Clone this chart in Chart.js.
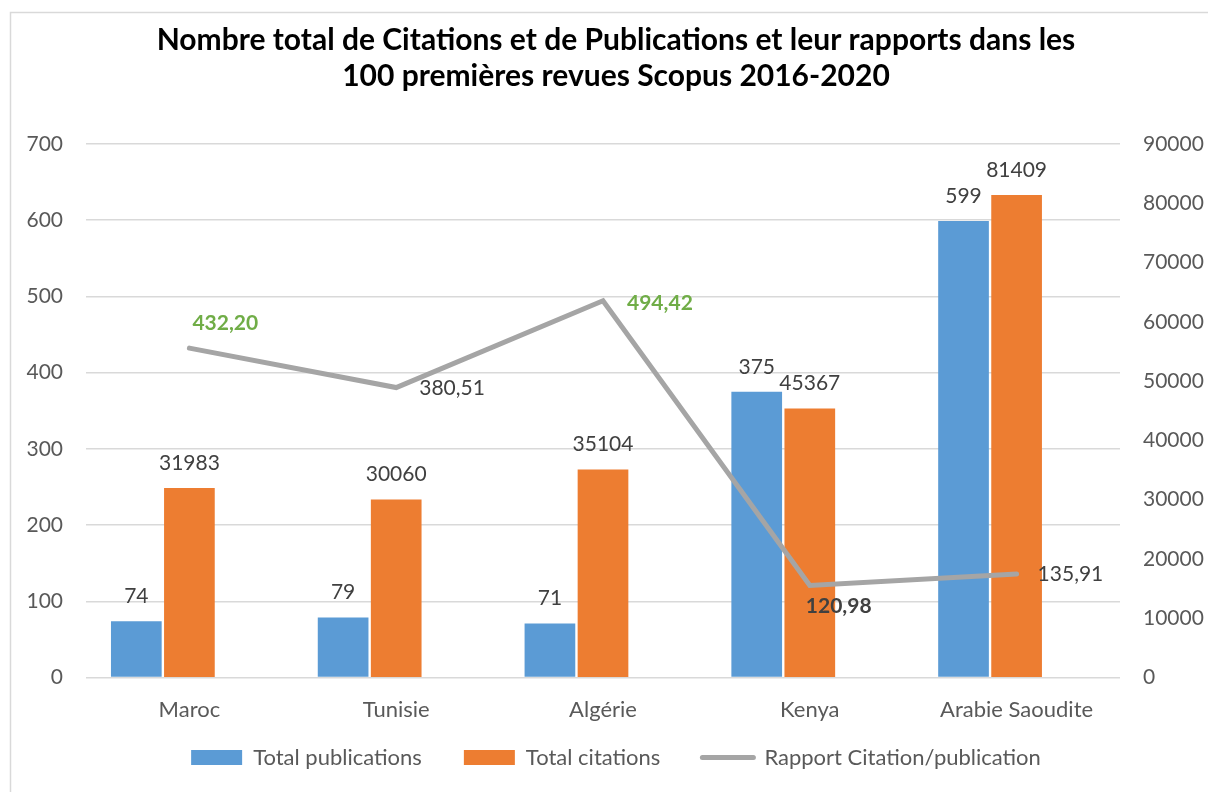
<!DOCTYPE html>
<html lang="fr">
<head>
  <meta charset="UTF-8" />
  <title>Citations et Publications - Scopus 2016-2020</title>
  <script src="https://cdn.jsdelivr.net/npm/chart.js"></script>
  <style>
    html, body { margin: 0; padding: 0; background: #fff; }
    #zone { width: 1208px; height: 792px; }
  </style>
</head>
<body>
  <div id="zone"><canvas id="graphique" width="1208" height="792"></canvas></div>

  <script>
    // Données
    const pays = ['Maroc', 'Tunisie', 'Algérie', 'Kenya', 'Arabie Saoudite'];
    const totalPublications = [74, 79, 71, 375, 599];
    const totalCitations = [31983, 30060, 35104, 45367, 81409];
    const rapport = [432.20, 380.51, 494.42, 120.98, 135.91];
    const titre = [
      'Nombre total de Citations et de Publications et leur rapports dans les',
      '100 premières revues Scopus 2016-2020'
    ];
    const axeGauche = { max: 700, pas: 100 };
    const axeDroit = { max: 90000, pas: 10000 };

    const police = 'Lato, "Open Sans", sans-serif';

    // position et style des étiquettes du rapport (comme dans Excel)
    const styleRapport = [
      { dx: 3, dy: -25, couleur: '#70AD47', gras: true },
      { dx: 23, dy: 1, couleur: '#404040', gras: false },
      { dx: 24, dy: 3, couleur: '#70AD47', gras: true },
      { dx: -4, dy: 21, couleur: '#404040', gras: true },
      { dx: 21, dy: 0, couleur: '#404040', gras: false }
    ];

    const cadre = {
      id: 'cadre',
      beforeDraw(chart) {
        const ctx = chart.ctx;
        ctx.save();
        ctx.fillStyle = '#fff';
        ctx.fillRect(0, 0, chart.width, chart.height);
        ctx.strokeStyle = '#D9D9D9';
        ctx.lineWidth = 1.5;
        ctx.strokeRect(10.5, 12.5, 1300, 900);
        ctx.restore();
      },
      afterLayout(chart) {
        // remonte la légende sous les noms de pays
        const lg = chart.legend;
        const h = lg.bottom - lg.top;
        lg.top = chart.chartArea.bottom + 27;
        lg.bottom = lg.top + h;
      }
    };

    const etiquettes = {
      id: 'etiquettes',
      afterDatasetsDraw(chart) {
        const ctx = chart.ctx;
        ctx.save();
        ctx.textBaseline = 'middle';
        ctx.textAlign = 'center';
        ctx.fillStyle = '#404040';
        ctx.font = '21px ' + police;
        [0, 1].forEach(di => {
          const meta = chart.getDatasetMeta(di);
          const valeurs = chart.data.datasets[di].data;
          meta.data.forEach((barre, i) => {
            ctx.fillText(String(valeurs[i]), barre.x, barre.y - 25);
          });
        });
        const metaLigne = chart.getDatasetMeta(3);
        ctx.textAlign = 'left';
        metaLigne.data.forEach((pt, i) => {
          const st = styleRapport[i];
          ctx.font = (st.gras ? 'bold ' : '') + '21px ' + police;
          ctx.fillStyle = st.couleur;
          ctx.fillText(rapport[i].toFixed(2).replace('.', ','), pt.x + st.dx, pt.y + st.dy);
        });
        ctx.restore();
      }
    };

    const ctx = document.getElementById('graphique').getContext('2d');

    new Chart(ctx, {
      type: 'bar',
      data: {
        labels: pays,
        datasets: [
          {
            label: 'Total publications',
            data: totalPublications,
            backgroundColor: '#5B9BD5',
            yAxisID: 'y',
            order: 2
          },
          {
            label: 'Total citations',
            data: totalCitations,
            backgroundColor: '#ED7D31',
            yAxisID: 'y1',
            order: 2
          },
          {
            // place vide du groupe de barres (la série ligne dans Excel)
            label: '',
            data: pays.map(() => null),
            backgroundColor: 'rgba(0,0,0,0)',
            yAxisID: 'y',
            order: 2
          },
          {
            type: 'line',
            label: 'Rapport Citation/publication',
            data: rapport,
            borderColor: '#A5A5A5',
            backgroundColor: '#A5A5A5',
            borderWidth: 5,
            borderCapStyle: 'round',
            borderJoinStyle: 'miter',
            pointRadius: 0,
            pointStyle: 'line',
            tension: 0,
            yAxisID: 'y',
            order: 1
          }
        ]
      },
      options: {
        responsive: false,
        animation: false,
        categoryPercentage: 0.77,
        barPercentage: 0.955,
        layout: { padding: { left: 24, right: 0, top: 12, bottom: -16 } },
        plugins: {
          title: {
            display: true,
            text: titre,
            color: '#000',
            font: { family: police, size: 30, weight: 'bold', lineHeight: 1.2 },
            padding: { top: 10, bottom: 50 }
          },
          legend: {
            position: 'bottom',
            maxHeight: 75,
            labels: {
              filter: (item) => item.text !== '',
              usePointStyle: true,
              pointStyleWidth: 51,
              boxHeight: 15,
              padding: 42,
              color: '#595959',
              font: { family: police, size: 22 },
              generateLabels(chart) {
                return chart.data.datasets.map((ds, i) => ({
                  text: ds.label,
                  fillStyle: ds.backgroundColor,
                  strokeStyle: ds.type === 'line' ? ds.borderColor : ds.backgroundColor,
                  lineWidth: ds.type === 'line' ? 5 : 0,
                  lineCap: 'round',
                  pointStyle: ds.type === 'line' ? 'line' : 'rect',
                  fontColor: '#595959',
                  hidden: false,
                  datasetIndex: i
                }));
              }
            }
          },
          tooltip: { enabled: false }
        },
        scales: {
          x: {
            grid: { display: false },
            border: { display: false },
            ticks: {
              color: '#595959',
              font: { family: police, size: 22 },
              padding: 11,
              maxRotation: 0,
              autoSkip: false
            }
          },
          y: {
            position: 'left',
            min: 0,
            max: axeGauche.max,
            grid: { color: '#D9D9D9', lineWidth: 1.5, drawTicks: false },
            border: { display: false },
            ticks: {
              stepSize: axeGauche.pas,
              color: '#595959',
              font: { family: police, size: 21 },
              padding: 23
            },
            afterFit(scale) { scale.width = 62; }
          },
          y1: {
            position: 'right',
            min: 0,
            max: axeDroit.max,
            grid: { drawOnChartArea: false, drawTicks: false },
            border: { display: false },
            ticks: {
              stepSize: axeDroit.pas,
              color: '#595959',
              font: { family: police, size: 21 },
              padding: 23,
              callback: (v) => String(v)
            },
            afterFit(scale) { scale.width = 88; }
          }
        }
      },
      plugins: [cadre, etiquettes]
    });
  </script>
</body>
</html>
